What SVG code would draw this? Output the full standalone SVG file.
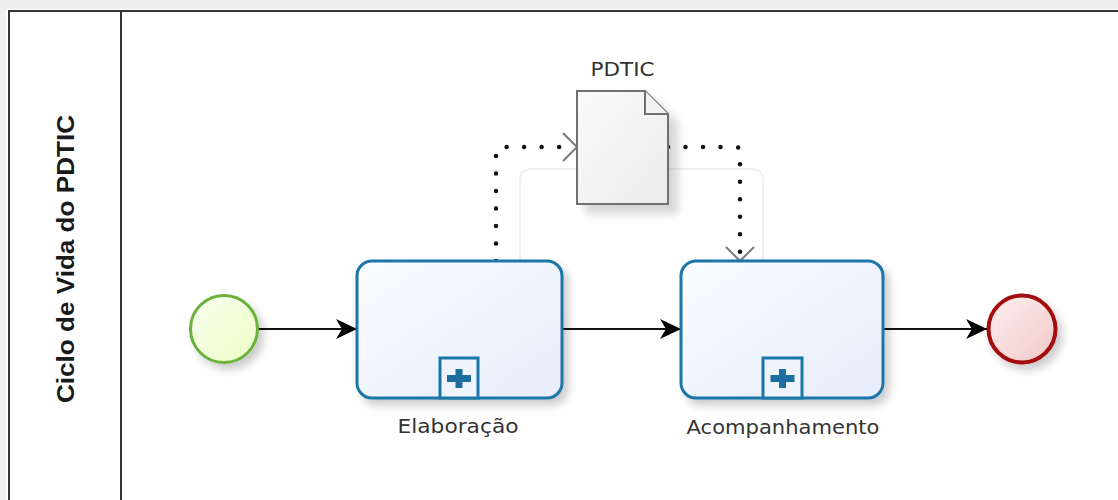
<svg xmlns="http://www.w3.org/2000/svg" width="1118" height="500" viewBox="0 0 1118 500">
<style>
.task{fill:url(#taskGrad);stroke:#1b76a8;stroke-width:3}
.mk{fill:#eef3fc;stroke:#1b76a8;stroke-width:3}
.plus{fill:#1b6e9e}
.lbl{font-family:"DejaVu Sans",sans-serif;font-size:19px;fill:#333;text-anchor:middle}
.seq{fill:none;stroke:#111;stroke-width:2}
.assoc{fill:none;stroke:#111;stroke-width:4.5;stroke-linecap:round;stroke-dasharray:0 17.5}
.open{fill:none;stroke:#7a7a7a;stroke-width:2}
</style>
<defs>
<linearGradient id="taskGrad" x1="0" y1="0" x2="1" y2="1">
<stop offset="0" stop-color="#fbfcff"/><stop offset="1" stop-color="#e6ecfa"/>
</linearGradient>
<linearGradient id="startGrad" x1="0" y1="0" x2="1" y2="1">
<stop offset="0" stop-color="#fbfff0"/><stop offset="1" stop-color="#eaffc4"/>
</linearGradient>
<linearGradient id="endGrad" x1="0" y1="0" x2="1" y2="1">
<stop offset="0" stop-color="#fdf0f0"/><stop offset="1" stop-color="#f2c8c8"/>
</linearGradient>
<linearGradient id="docGrad" x1="0" y1="0" x2="1" y2="1">
<stop offset="0" stop-color="#fbfbfb"/><stop offset="1" stop-color="#ebebeb"/>
</linearGradient>
<filter id="sh" x="-20%" y="-20%" width="150%" height="150%">
<feDropShadow dx="5" dy="6" stdDeviation="4" flood-color="#000" flood-opacity="0.2"/>
</filter>
<filter id="shDoc" x="-20%" y="-20%" width="160%" height="160%">
<feDropShadow dx="9" dy="9" stdDeviation="4" flood-color="#000" flood-opacity="0.16"/>
</filter>
<marker id="arr" markerUnits="userSpaceOnUse" markerWidth="24" markerHeight="22" refX="22" refY="11" orient="auto">
<path d="M22,11 L1,1 L7,11 L1,21 Z" fill="#000"/>
</marker>
</defs>

<rect x="0" y="0" width="1118" height="500" fill="#efefef"/>
<rect x="6" y="9" width="1112" height="491" fill="#ffffff"/>

<g id="pool">
<path d="M9,500 V11 H1118" fill="none" stroke="#333" stroke-width="2"/>
<line x1="121" y1="11" x2="121" y2="500" stroke="#333" stroke-width="2"/>
<text transform="translate(74,259) rotate(-90)" font-family="'Liberation Sans',Arial,sans-serif" font-weight="bold" font-size="23" fill="#1a1a1a" text-anchor="middle" textLength="288" lengthAdjust="spacingAndGlyphs">Ciclo de Vida do PDTIC</text>
</g>

<path d="M520,262 V181 Q520,169 532,169 H751 Q763,169 763,181 V262" fill="none" stroke="#f0f0f0" stroke-width="2"/>

<g id="connectors">
<line class="seq" x1="258" y1="329" x2="357" y2="329" marker-end="url(#arr)"/>
<line class="seq" x1="562" y1="329" x2="681" y2="329" marker-end="url(#arr)"/>
<line class="seq" x1="883" y1="329" x2="987" y2="329" marker-end="url(#arr)"/>
<path class="assoc" d="M496,261 V152 Q496,147 501,147 H570"/>
<path class="open" d="M563,133 L577,147 L563,161"/>
<path class="assoc" d="M668,147 H736 Q740,147 740,151 V255"/>
<path class="open" d="M726,247 L740,261 L754,247"/>
</g>

<g id="start">
<circle cx="224" cy="329" r="33.5" fill="url(#startGrad)" stroke="#6ab23a" stroke-width="3" filter="url(#sh)"/>
</g>

<g id="task-elaboracao">
<rect class="task" x="357" y="261" width="205" height="137" rx="15" filter="url(#sh)"/>
<rect class="mk" x="440" y="358" width="38" height="40"/>
<rect class="plus" x="447" y="375" width="24" height="7"/>
<rect class="plus" x="455.5" y="369" width="7" height="19"/>
<text class="lbl" x="458" y="433" textLength="121" lengthAdjust="spacingAndGlyphs">Elaboração</text>
</g>

<g id="task-acompanhamento">
<rect class="task" x="681" y="261" width="202" height="137" rx="15" filter="url(#sh)"/>
<rect class="mk" x="763" y="358" width="39" height="40"/>
<rect class="plus" x="770.5" y="375" width="24" height="7"/>
<rect class="plus" x="779" y="369" width="7" height="19"/>
<text class="lbl" x="783" y="434" textLength="193" lengthAdjust="spacingAndGlyphs">Acompanhamento</text>
</g>

<g id="end">
<circle cx="1022" cy="329" r="33.5" fill="url(#endGrad)" stroke="#a30c0c" stroke-width="4" filter="url(#sh)"/>
</g>

<g id="data-pdtic">
<path d="M577,91 H645 L668,114 V204 H577 Z" fill="url(#docGrad)" stroke="#707070" stroke-width="2" filter="url(#shDoc)"/>
<path d="M645,91 V114 H668" fill="#f4f4f4" stroke="#707070" stroke-width="2"/>
<text class="lbl" x="622.5" y="76" textLength="64" lengthAdjust="spacingAndGlyphs">PDTIC</text>
</g>
</svg>
